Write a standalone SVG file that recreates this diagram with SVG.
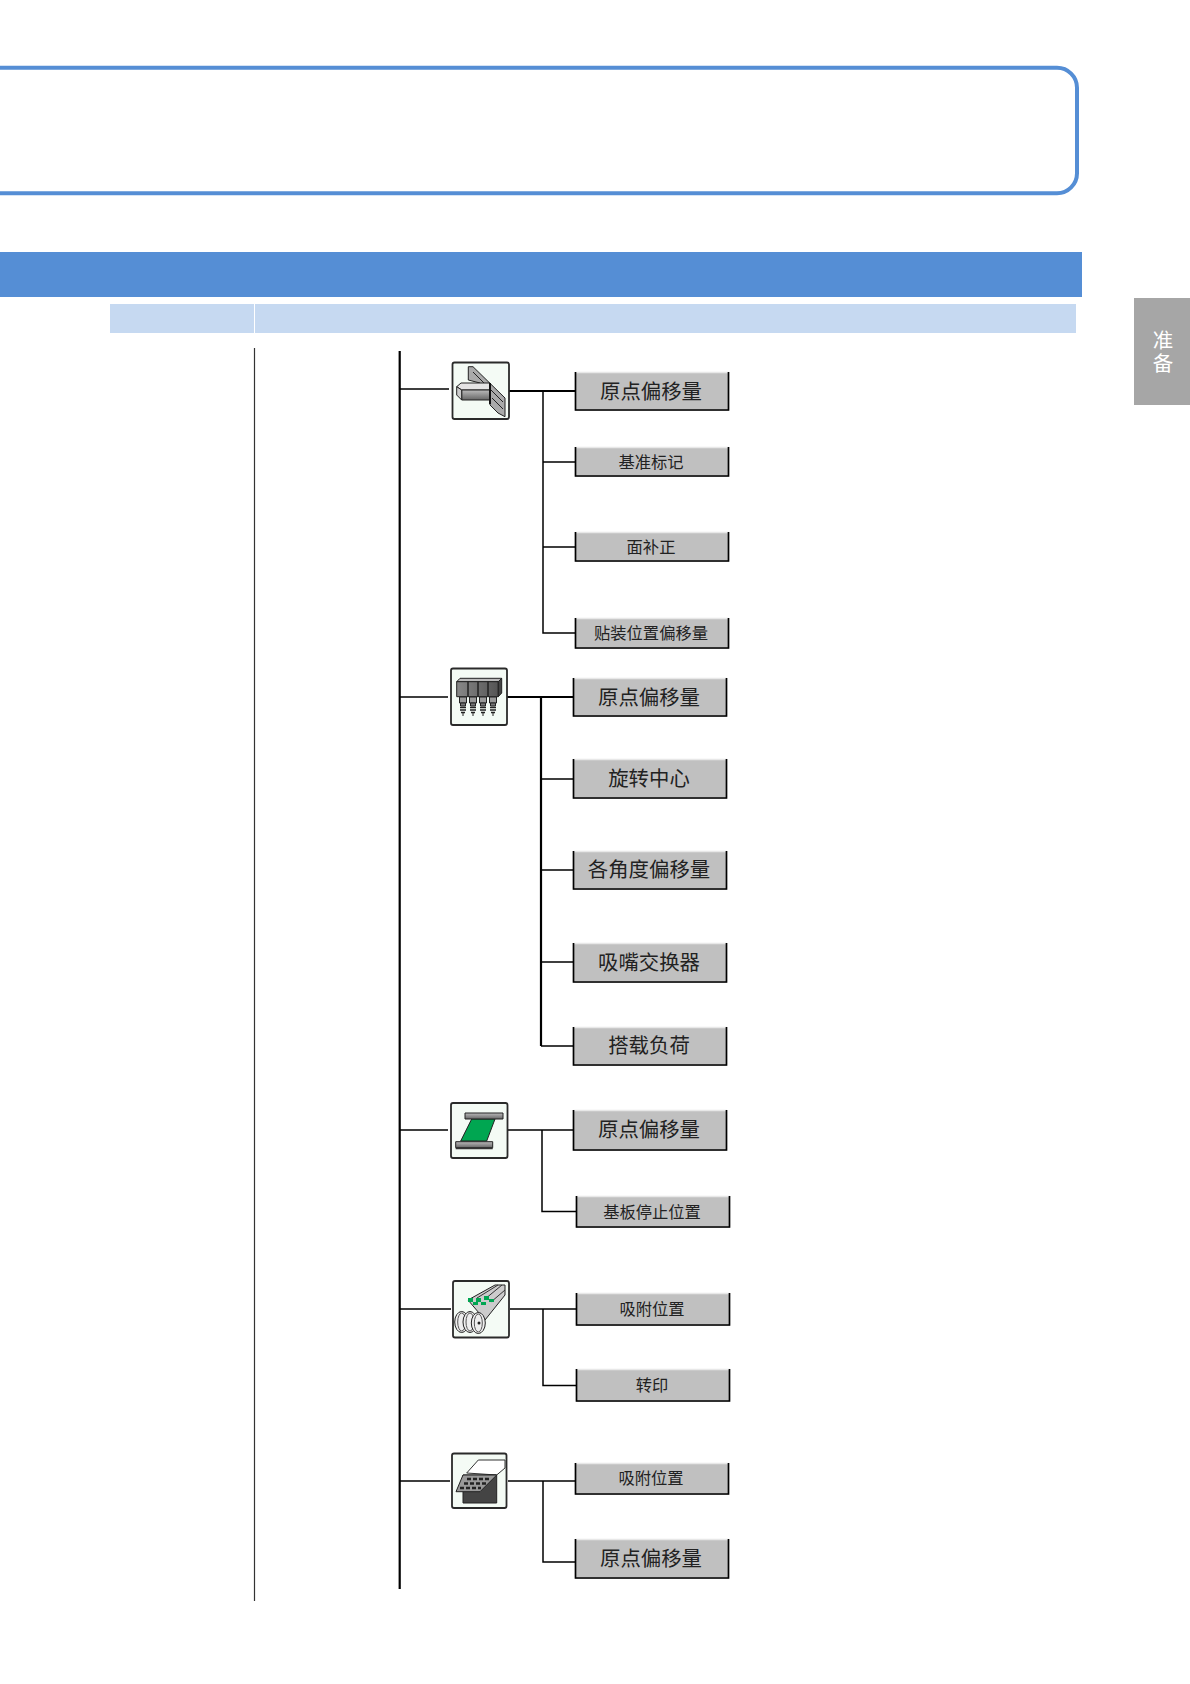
<svg xmlns="http://www.w3.org/2000/svg" width="1190" height="1684" viewBox="0 0 1190 1684">
<style>
.lg{font:20.4px "Noto Sans CJK SC","Noto Sans",sans-serif;fill:#222;text-anchor:middle}
.sm{font:16.3px "Noto Sans CJK SC","Noto Sans",sans-serif;fill:#222;text-anchor:middle}
.tab{font:20.5px "Noto Sans CJK SC","Noto Sans",sans-serif;fill:#fff;writing-mode:vertical-rl;letter-spacing:2.5px}
.c{fill:none;stroke:#000;stroke-width:1.5}
.t{fill:none;stroke:#000;stroke-width:2.2}
.b{fill:#c0c0c0;stroke:none}
.hl{fill:none;stroke:#e8e8e8;stroke-width:1.5}
.sh{fill:none;stroke:#000;stroke-width:1.7}
.ic{fill:#f4fbf5;stroke:#2a2a2a;stroke-width:1.8}
.i{stroke:#222;stroke-width:1}
</style>
<defs>
<g id="nozzle">
<path fill="#999" stroke="#222" d="M-3.500 0H3.500V6H-3.500Z"/>
<path fill="#777" stroke="#222" d="M-2.500 6H2.500V9H-2.500Z"/>
<path stroke="#222" stroke-width="1.3" d="M-3 10.500H3M-3 13H3M-2 15.500H2"/>
<path stroke="#222" d="M0 15.500V19"/>
</g>
<g id="wheel">
<ellipse class="i" rx="7" ry="10.500" fill="#eee"/>
<ellipse fill="none" stroke="#555" rx="4" ry="9"/>
</g>
<linearGradient id="arm" x1="0" y1="0" x2="0" y2="1"><stop offset="0" stop-color="#bbb"/><stop offset="1" stop-color="#666"/></linearGradient>
<linearGradient id="blk" x1="0" y1="0" x2="1" y2="0"><stop offset="0" stop-color="#888"/><stop offset="1" stop-color="#555"/></linearGradient>
</defs>
<rect x="-20" y="67.7" width="1097" height="125.5" rx="20" fill="#fff" stroke="#558ed5" stroke-width="4"/>
<rect x="0" y="252" width="1082" height="45" fill="#558ed5"/>
<rect x="110" y="304" width="144" height="29" fill="#c6d9f1"/>
<rect x="255" y="304" width="821" height="29" fill="#c6d9f1"/>
<rect x="1134" y="298" width="56" height="107" fill="#a6a6a6"/>
<text class="tab" x="1163" y="330">准备</text>
<path d="M254.500 348V1601" fill="none" stroke="#333" stroke-width="1.2"/>

<g id="connectors">
<path class="t" d="M399.700 351V1589"/>
<path class="c" d="M400 389H449M400 697H448M400 1130H448M400 1309H451M400 1481H450"/>
<path class="t" d="M509 391H575"/>
<path class="c" d="M543 391V633H575M543 462H575M543 547H575"/>
<path class="t" d="M507 697H573M541 697V1046"/>
<path class="c" d="M541 779H573M541 870H573M541 962H573M541 1046H573"/>
<path class="c" d="M508 1130H573M542 1130V1211.500H576"/>
<path class="c" d="M510 1309H576M543 1309V1385.500H576"/>
<path class="c" d="M508 1481H575M543 1481V1562H575"/>
</g>

<g id="icon-1">
<rect class="ic" x="452.500" y="362.500" width="56.500" height="56.500" rx="2"/>
<path class="i" fill="#aaa" d="M468.300 366.700H473L505 398V416.700L498 413L490 405V396.700L480 383L468.300 380Z"/>
<path d="M473 372L503 402M492 398L503 409" stroke="#222" fill="none"/>
<path class="i" fill="#e4e4e4" d="M456.700 386.700L461 383H490V390H461.700Z"/>
<path class="i" fill="url(#arm)" d="M461.700 390H490V400H461.700Z"/>
<path class="i" fill="#ccc" d="M456.700 386.700L461.700 390V400L456.700 395Z"/>
<path d="M490 383V404" stroke="#111" stroke-width="2"/>
</g>
<g id="icon-2">
<rect class="ic" x="451" y="668.500" width="56" height="56.500" rx="2"/>
<path class="i" fill="#bbb" d="M456.700 681.700L460 678.300H501.700L498.300 681.700Z"/>
<path class="i" fill="url(#blk)" d="M456.700 681.700H468V696.700H456.700ZM468 681.700H478V696.700H468ZM478 681.700H488V696.700H478ZM488 681.700H498.300V696.700H488Z"/>
<path class="i" fill="#444" d="M498.300 681.700L501.700 678.300V693L498.300 696.700Z"/>
<use href="#nozzle" x="463" y="697"/><use href="#nozzle" x="473" y="697"/><use href="#nozzle" x="483" y="697"/><use href="#nozzle" x="493" y="697"/>
</g>
<g id="icon-3">
<rect class="ic" x="451" y="1103" width="56.500" height="55" rx="2"/>
<path fill="#00a651" stroke="#222" d="M471.700 1119H495L486.700 1141H460.700Z"/>
<path class="i" fill="url(#arm)" d="M465 1113H503V1119H465Z"/>
<path class="i" fill="url(#arm)" d="M455.700 1141.700H492.700V1147.700H455.700Z"/>
<path d="M455.700 1148.500H492.700" stroke="#333" stroke-width="1.500"/>
</g>
<g id="icon-4">
<rect class="ic" x="453" y="1281" width="56" height="56.500" rx="2"/>
<path class="i" fill="#ccc" d="M468 1300L495 1285H505V1295L485 1320Z"/>
<path d="M477 1298L498 1285M485 1299L502 1285M491 1302L505 1290" stroke="#333" fill="none"/>
<path fill="#00a651" d="M468 1298H473V1302H468ZM476 1298H481V1302H476ZM484 1296H489V1300H484ZM473 1302H478V1305H473ZM481 1302H486V1305H481ZM489 1299H494V1302H489Z"/>
<use href="#wheel" x="461.700" y="1322"/><use href="#wheel" x="470" y="1322"/><use href="#wheel" x="478.300" y="1323"/>
<circle cx="479" cy="1323" r="1.500" fill="#222"/>
</g>
<g id="icon-5">
<rect class="ic" x="452" y="1453.500" width="54.500" height="54.500" rx="2"/>
<path fill="#fff" stroke="#333" d="M466.700 1473L478.300 1460H505V1468L496.700 1475Z"/>
<path fill="#444" stroke="#222" d="M463 1475H496.700V1503H463Z"/>
<path fill="#999" stroke="#222" d="M463 1475H496.700L480 1491.700H456Z"/>
<path d="M467 1479H490M464 1483.500H486M460 1488H481" stroke="#222" stroke-width="2.500" stroke-dasharray="4 2"/>
</g>

<g id="btn-1"><rect class="b" x="575" y="372" width="154" height="39"/><path class="hl" d="M575.500 372.500H729"/><path class="sh" d="M575.500 372V410H728.500V372"/><text class="lg" x="651" y="399">原点偏移量</text></g>
<g id="btn-2"><rect class="b" x="575" y="447" width="154" height="30"/><path class="hl" d="M575.500 447.500H729"/><path class="sh" d="M575.500 447V476H728.500V447"/><text class="sm" x="651" y="468">基准标记</text></g>
<g id="btn-3"><rect class="b" x="575" y="532" width="154" height="30"/><path class="hl" d="M575.500 532.500H729"/><path class="sh" d="M575.500 532V561H728.500V532"/><text class="sm" x="651" y="553">面补正</text></g>
<g id="btn-4"><rect class="b" x="575" y="618" width="154" height="31"/><path class="hl" d="M575.500 618.500H729"/><path class="sh" d="M575.500 618V648H728.500V618"/><text class="sm" x="651" y="639">贴装位置偏移量</text></g>

<g id="btn-5"><rect class="b" x="573" y="678" width="154" height="39"/><path class="hl" d="M573.500 678.500H727"/><path class="sh" d="M573.500 678V716H726.500V678"/><text class="lg" x="649" y="705">原点偏移量</text></g>
<g id="btn-6"><rect class="b" x="573" y="759" width="154" height="40"/><path class="hl" d="M573.500 759.500H727"/><path class="sh" d="M573.500 759V798H726.500V759"/><text class="lg" x="649" y="786">旋转中心</text></g>
<g id="btn-7"><rect class="b" x="573" y="851" width="154" height="39"/><path class="hl" d="M573.500 851.500H727"/><path class="sh" d="M573.500 851V889H726.500V851"/><text class="lg" x="649" y="877">各角度偏移量</text></g>
<g id="btn-8"><rect class="b" x="573" y="943" width="154" height="40"/><path class="hl" d="M573.500 943.500H727"/><path class="sh" d="M573.500 943V982H726.500V943"/><text class="lg" x="649" y="970">吸嘴交换器</text></g>
<g id="btn-9"><rect class="b" x="573" y="1027" width="154" height="39"/><path class="hl" d="M573.500 1027.500H727"/><path class="sh" d="M573.500 1027V1065H726.500V1027"/><text class="lg" x="649" y="1053">搭载负荷</text></g>

<g id="btn-10"><rect class="b" x="573" y="1110" width="154" height="41"/><path class="hl" d="M573.500 1110.500H727"/><path class="sh" d="M573.500 1110V1150H726.500V1110"/><text class="lg" x="649" y="1137">原点偏移量</text></g>
<g id="btn-11"><rect class="b" x="576" y="1196" width="154" height="32"/><path class="hl" d="M576.500 1196.500H730"/><path class="sh" d="M576.500 1196V1227H729.500V1196"/><text class="sm" x="652" y="1218">基板停止位置</text></g>

<g id="btn-12"><rect class="b" x="576" y="1293" width="154" height="33"/><path class="hl" d="M576.500 1293.500H730"/><path class="sh" d="M576.500 1293V1325H729.500V1293"/><text class="sm" x="652" y="1315">吸附位置</text></g>
<g id="btn-13"><rect class="b" x="576" y="1369" width="154" height="33"/><path class="hl" d="M576.500 1369.500H730"/><path class="sh" d="M576.500 1369V1401H729.500V1369"/><text class="sm" x="652" y="1391">转印</text></g>

<g id="btn-14"><rect class="b" x="575" y="1463" width="154" height="32"/><path class="hl" d="M575.500 1463.500H729"/><path class="sh" d="M575.500 1463V1494H728.500V1463"/><text class="sm" x="651" y="1484">吸附位置</text></g>
<g id="btn-15"><rect class="b" x="575" y="1539" width="154" height="40"/><path class="hl" d="M575.500 1539.500H729"/><path class="sh" d="M575.500 1539V1578H728.500V1539"/><text class="lg" x="651" y="1566">原点偏移量</text></g>
</svg>
